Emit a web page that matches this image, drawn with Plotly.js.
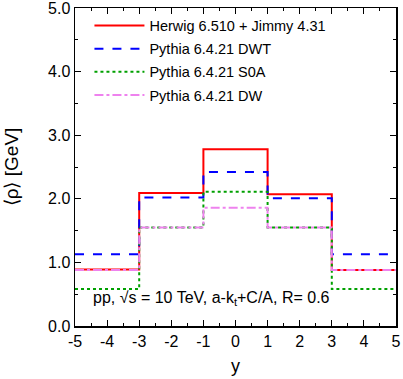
<!DOCTYPE html>
<html><head><meta charset="utf-8">
<script src="https://cdn.plot.ly/plotly-3.0.1.min.js"></script>
<style>body{margin:0;padding:0;background:#fff}#chart{width:403px;height:379px}</style>
</head><body><div id="chart"></div>
<script>
const binEdges = [-5, -3, -1, 1, 3, 5];
const herwig = [0.89, 2.09, 2.78, 2.07, 0.88];
const pythiaDWT = [1.13, 2.02, 2.42, 2.01, 1.13];
const pythiaS0A = [0.58, 1.55, 2.11, 1.55, 0.58];
const pythiaDW = [0.88, 1.55, 1.86, 1.55, 0.88];
const seriesNames = ["Herwig 6.510 + Jimmy 4.31", "Pythia 6.4.21 DWT", "Pythia 6.4.21 S0A", "Pythia 6.4.21 DW"];
const xTicks = [-5, -4, -3, -2, -1, 0, 1, 2, 3, 4, 5];
const yTicks = [0, 1, 2, 3, 4, 5];
const yTickLabels = ["0.0", "1.0", "2.0", "3.0", "4.0", "5.0"];

function stepY(v) { return v.concat([v[v.length - 1]]); }
const styles = [
  {color: "#ff0000", dash: "solid", width: 2},
  {color: "#0000ff", dash: "dash", width: 2},
  {color: "#00a000", dash: "dot", width: 2},
  {color: "#ee82ee", dash: "dashdot", width: 2}
];
const data = [herwig, pythiaDWT, pythiaS0A, pythiaDW].map((v, i) => ({
  x: binEdges, y: stepY(v), type: "scatter", mode: "lines",
  line: {shape: "hv", color: styles[i].color, dash: styles[i].dash, width: styles[i].width},
  name: seriesNames[i], legendgroup: "g" + i
}));
const FAM = "Liberation Sans, Arial, sans-serif";
const font = {family: FAM, size: 16, color: "#000"};
const axisCommon = {showgrid: false, zeroline: false, showline: true, linecolor: "#000", linewidth: 1.5,
  mirror: "allticks", ticks: "inside", ticklen: 6, tickcolor: "#000", tickwidth: 1,
  ticklabeloverflow: "allow",
  minor: {ticks: "inside", ticklen: 3, tickcolor: "#000", dtick: 0.5}, tickfont: font};
const layout = {
  width: 403, height: 379,
  margin: {l: 75, r: 7, t: 8, b: 53},
  paper_bgcolor: "#fff", plot_bgcolor: "#fff",
  font: font,
  showlegend: true,
  legend: {x: 0.045, y: 0.995, xanchor: "left", yanchor: "top", bgcolor: "rgba(0,0,0,0)",
    font: {family: FAM, size: 14.5, color: "#000"}, traceorder: "grouped", tracegroupgap: 1.3, itemwidth: 50},
  xaxis: Object.assign({}, axisCommon, {range: [-5, 5], tickvals: xTicks, ticktext: xTicks.map(String),
    title: {text: "y", font: {family: FAM, size: 18}, standoff: 10}}),
  yaxis: Object.assign({}, axisCommon, {range: [0, 5], tickvals: yTicks, ticktext: yTickLabels,
    title: {text: "⟨ρ⟩ [GeV]", font: {family: FAM, size: 19}, standoff: 24}}),
  annotations: [{xref: "paper", yref: "paper", x: 0.05, y: 0.085, xanchor: "left", yanchor: "middle",
    text: "pp, √s = 10 TeV, a-k<sub>t</sub>+C/A, R= 0.6", showarrow: false,
    font: {family: FAM, size: 16, color: "#000"}}]
};
Plotly.newPlot("chart", data, layout, {staticPlot: true});
</script></body></html>
